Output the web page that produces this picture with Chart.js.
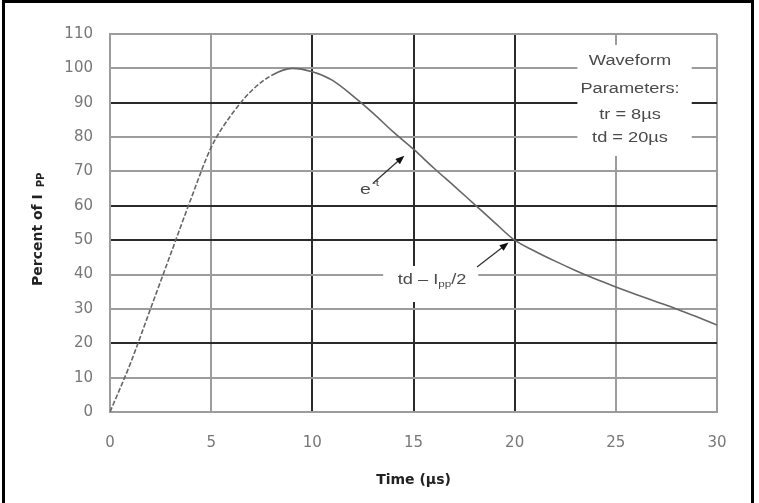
<!DOCTYPE html>
<html>
<head>
<meta charset="utf-8">
<script src="https://cdn.jsdelivr.net/npm/chart.js@4"></script>
<style>
  html, body { margin: 0; padding: 0; background: #fff; }
  #wrap { position: relative; width: 759px; height: 503px; overflow: hidden; }
</style>
</head>
<body>
<div id="wrap"><canvas id="chart" width="759" height="503"></canvas></div>
<script>
// surge waveform, percent of Ipp vs time in µs
const timeUs = [0, 1, 2, 3, 4, 5, 6, 7, 8, 9, 10, 11, 12, 13, 14, 15, 16, 17, 18, 19, 20, 21, 22, 23, 24, 25, 26, 27, 28, 29, 30];
const percentIpp = [0, 14, 30, 46, 62, 77, 86.5, 93.5, 98, 100, 99, 96.5, 92, 87, 81.5, 76.5, 71, 65.8, 60.5, 55.2, 50, 46.8, 43.9, 41.2, 38.7, 36.4, 34.2, 32.1, 30, 27.7, 25.3];

const darkXGrid = [10, 15, 20];
const darkYGrid = [20, 50, 60, 90];
const paramLines = ['Waveform', 'Parameters:', 'tr = 8µs', 'td = 20µs'];

const points = timeUs.map((t, i) => ({ x: t, y: percentIpp[i] }));

const SANS = '"Liberation Sans", Arial, sans-serif';

function wideText(ctx, txt, x, y, size, color, align, stretch) {
  ctx.save();
  ctx.font = size + 'px ' + SANS;
  ctx.fillStyle = color;
  ctx.textBaseline = 'middle';
  const w = ctx.measureText(txt).width * stretch;
  let left = x;
  if (align === 'center') left = x - w / 2;
  if (align === 'right') left = x - w;
  ctx.translate(left, y);
  ctx.scale(stretch, 1);
  ctx.fillText(txt, 0, 0);
  ctx.restore();
  return w;
}

function arrow(ctx, x1, y1, x2, y2) {
  const a = Math.atan2(y2 - y1, x2 - x1);
  ctx.save();
  ctx.strokeStyle = '#333';
  ctx.fillStyle = '#111';
  ctx.lineWidth = 1.3;
  ctx.beginPath();
  ctx.moveTo(x1, y1);
  ctx.lineTo(x2 - 6 * Math.cos(a), y2 - 6 * Math.sin(a));
  ctx.stroke();
  ctx.beginPath();
  ctx.moveTo(x2, y2);
  ctx.lineTo(x2 - 9 * Math.cos(a) + 3.5 * Math.sin(a), y2 - 9 * Math.sin(a) - 3.5 * Math.cos(a));
  ctx.lineTo(x2 - 9 * Math.cos(a) - 3.5 * Math.sin(a), y2 - 9 * Math.sin(a) + 3.5 * Math.cos(a));
  ctx.closePath();
  ctx.fill();
  ctx.restore();
}

const notes = {
  id: 'notes',
  beforeDatasetsDraw(chart) {
    const ctx = chart.ctx;
    const xs = chart.scales.x, ys = chart.scales.y;
    ctx.save();
    ctx.fillStyle = '#fff';
    // box behind the parameter text
    let l = xs.getPixelForValue(23.1), r = xs.getPixelForValue(28.75);
    let t = ys.getPixelForValue(106.8), b = ys.getPixelForValue(74.5);
    ctx.fillRect(l, t, r - l, b - t);
    // box behind td label
    l = xs.getPixelForValue(13.5); r = xs.getPixelForValue(18.2);
    t = ys.getPixelForValue(42.5); b = ys.getPixelForValue(32);
    ctx.fillRect(l, t, r - l, b - t);
    ctx.restore();
  },
  afterDatasetsDraw(chart) {
    const ctx = chart.ctx;
    const xs = chart.scales.x, ys = chart.scales.y;
    const px = v => xs.getPixelForValue(v), py = v => ys.getPixelForValue(v);

    // Waveform parameters
    const rows = [102.2, 94.0, 86.4, 79.7];
    paramLines.forEach((s, i) => wideText(ctx, s, px(25.7), py(rows[i]), 14, '#4a4a4a', 'center', 1.3));

    // e^-t label
    const ew = wideText(ctx, 'e', px(12.36), py(64.6), 15, '#4a4a4a', 'left', 1.3);
    wideText(ctx, '-t', px(12.36) + ew + 1, py(64.6) - 6, 9, '#4a4a4a', 'left', 1.3);
    arrow(ctx, px(13.0), py(66.6), px(14.55), py(74.6));

    // td = Ipp/2 label
    ctx.save();
    ctx.font = '14px ' + SANS;
    const w1 = ctx.measureText('td – I').width * 1.3;
    const w3 = ctx.measureText('/2').width * 1.3;
    ctx.font = '9px ' + SANS;
    const w2 = ctx.measureText('pp').width * 1.3;
    ctx.restore();
    let x0 = px(15.92) - (w1 + w2 + w3) / 2;
    const yl = py(38.4);
    wideText(ctx, 'td – I', x0, yl, 14, '#4a4a4a', 'left', 1.3);
    wideText(ctx, 'pp', x0 + w1, yl + 4, 9, '#4a4a4a', 'left', 1.3);
    wideText(ctx, '/2', x0 + w1 + w2, yl, 14, '#4a4a4a', 'left', 1.3);
    arrow(ctx, px(18.14), py(42.2), px(19.7), py(49.3));

    // y axis title with subscript
    ctx.save();
    ctx.translate(38, 286);
    ctx.rotate(-Math.PI / 2);
    ctx.fillStyle = '#222';
    ctx.textBaseline = 'middle';
    ctx.font = 'bold 14px "DejaVu Sans", sans-serif';
    ctx.fillText('Percent of I', 0, 0);
    const tw = ctx.measureText('Percent of I ').width;
    ctx.font = 'bold 10px "DejaVu Sans", sans-serif';
    ctx.fillText('PP', tw + 2, 3);
    ctx.restore();
  },
  afterDraw(chart) {
    const ctx = chart.ctx;
    ctx.save();
    ctx.strokeStyle = '#000';
    ctx.lineWidth = 3;
    ctx.strokeRect(3.5, 1.5, 749, 512);
    ctx.restore();
  }
};

new Chart(document.getElementById('chart'), {
  type: 'line',
  data: {
    datasets: [{
      data: points,
      borderColor: '#666',
      borderWidth: 1.6,
      pointRadius: 0,
      cubicInterpolationMode: 'monotone',
      segment: {
        borderDash: c => c.p0.parsed.x < 8 ? [5, 2] : undefined
      }
    }]
  },
  options: {
    responsive: false,
    animation: false,
    layout: { padding: { left: 0, right: 42, top: 34, bottom: 0 } },
    plugins: {
      legend: { display: false },
      tooltip: { enabled: false }
    },
    scales: {
      x: {
        type: 'linear',
        min: 0,
        max: 30,
        afterFit: s => { s.height = 91; },
        ticks: {
          stepSize: 5,
          padding: 22,
          color: '#777',
          font: { family: '"DejaVu Sans", sans-serif', size: 15 }
        },
        grid: {
          drawTicks: false,
          lineWidth: 2,
          color: c => darkXGrid.includes(c.tick.value) ? '#2a2a2a' : '#9c9c9c'
        },
        border: { color: '#9c9c9c', width: 2 },
        title: {
          display: true,
          text: 'Time (µs)',
          color: '#222',
          font: { family: '"DejaVu Sans", sans-serif', size: 14, weight: 'bold' },
          padding: { top: 0, bottom: 14 }
        }
      },
      y: {
        min: 0,
        max: 110,
        afterFit: s => { s.width = 110; },
        ticks: {
          stepSize: 10,
          padding: 17,
          color: '#777',
          font: { family: '"DejaVu Sans", sans-serif', size: 15 }
        },
        grid: {
          drawTicks: false,
          lineWidth: 2,
          color: c => darkYGrid.includes(c.tick.value) ? '#2a2a2a' : '#9c9c9c'
        },
        border: { color: '#9c9c9c', width: 2 }
      }
    }
  },
  plugins: [notes]
});
</script>
</body>
</html>
